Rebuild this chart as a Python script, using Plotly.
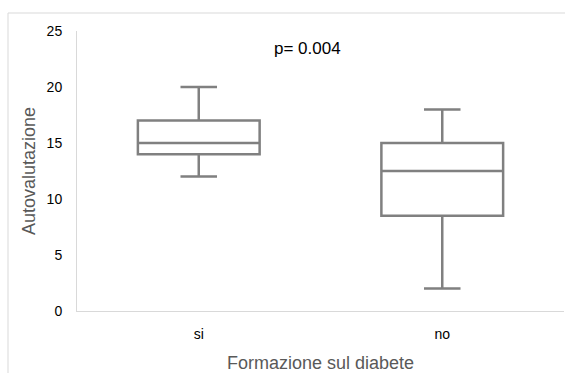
import plotly.graph_objects as go

# Summary statistics of the self-assessment score per group
categories = ["si", "no"]
lower_whisker = [12, 2]
q1_values = [14, 8.5]
medians = [15, 12.5]
q3_values = [17, 15]
upper_whisker = [20, 18]
y_ticks = [0, 5, 10, 15, 20, 25]
p_label = "p= 0.004"

W, H = 565, 373
L, R, T, B = 77, 1, 31, 62

fig = go.Figure()
fig.add_trace(go.Box(
    x=categories,
    q1=q1_values,
    median=medians,
    q3=q3_values,
    lowerfence=lower_whisker,
    upperfence=upper_whisker,
    width=0.5,
    whiskerwidth=0.3,
    line=dict(color="#808080", width=2.5),
    fillcolor="white",
    boxpoints=False,
    showlegend=False,
))

font_family = "Liberation Sans, Arial, Helvetica, sans-serif"

fig.update_layout(
    width=W, height=H,
    margin=dict(l=L, r=R, t=T, b=B),
    paper_bgcolor="white",
    plot_bgcolor="white",
    font=dict(family=font_family, size=14, color="black"),
    xaxis=dict(
        type="category",
        range=[-0.5, 1.5],
        showgrid=False,
        zeroline=False,
        showline=True,
        linecolor="#d9d9d9",
        linewidth=1,
        ticks="",
        ticklabelstandoff=10,
        tickfont=dict(size=14, color="black"),
        title=dict(text="Formazione sul diabete",
                   font=dict(size=18, color="#595959"),
                   standoff=15),
    ),
    yaxis=dict(
        range=[0, 25],
        tickvals=y_ticks,
        showgrid=False,
        zeroline=False,
        showline=True,
        linecolor="#d9d9d9",
        linewidth=1,
        ticks="",
        ticklabelstandoff=11,
        tickfont=dict(size=14, color="black"),
        title=dict(text="Autovalutazione",
                   font=dict(size=18, color="#595959"),
                   standoff=6),
    ),
)

# p-value note above the boxes
fig.add_annotation(
    x=0.474, xref="paper", y=23.4, yref="y",
    text=p_label, showarrow=False,
    font=dict(size=17, color="black"),
)

# Light frame around the chart area
pw = W - L - R
ph = H - T - B
x_left = (8 - L) / pw
y_top = (H - B - 13) / ph
fig.add_shape(type="line", xref="paper", yref="paper",
              x0=x_left, x1=x_left, y0=-0.5, y1=y_top,
              line=dict(color="#d9d9d9", width=1))
fig.add_shape(type="line", xref="paper", yref="paper",
              x0=x_left, x1=1.2, y0=y_top, y1=y_top,
              line=dict(color="#d9d9d9", width=1))

fig.write_html("out.html")
